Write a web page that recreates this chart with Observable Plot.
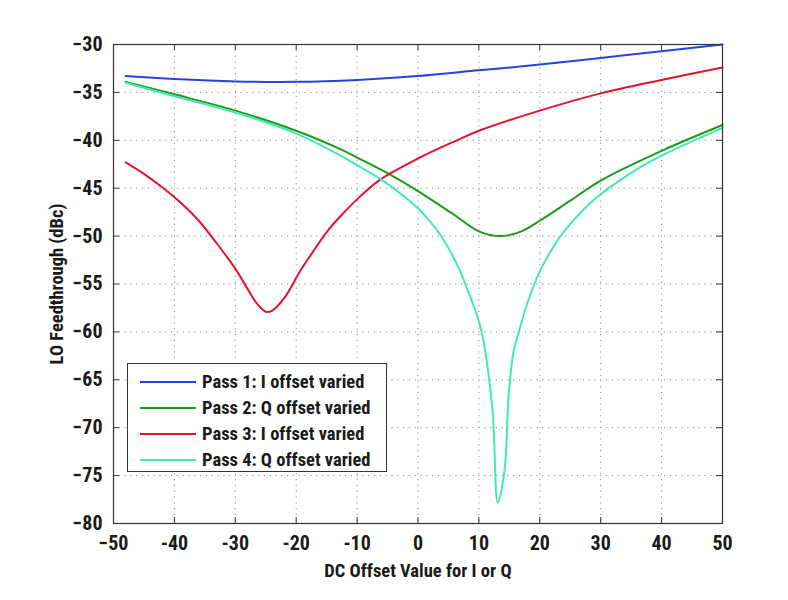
<!DOCTYPE html>
<html>
<head>
<meta charset="utf-8">
<script src="https://cdn.jsdelivr.net/npm/d3@7"></script>
<script src="https://cdn.jsdelivr.net/npm/@observablehq/plot@0.6"></script>
<style>
  html, body { margin: 0; padding: 0; background: #fff; }
  #wrap { position: relative; width: 788px; height: 600px; }
  #legend {
    position: absolute; left: 127px; top: 363px; width: 258px; height: 107px;
    border: 1px solid #333; background: #fff; box-sizing: content-box;
    font-weight: bold; font-size: 18.5px; color: #1a1a1a;
  }
  .row { position: absolute; left: 0; height: 26px; display: flex; align-items: center; white-space: nowrap; }
  .row svg { margin-left: 12px; margin-right: 6px; flex: none; }
  .row span { display: inline-block; transform-origin: left center; }
</style>
</head>
<body>
<div id="wrap"></div>
<script>
// ---- data ----
const seriesNames = ["Pass 1: I offset varied", "Pass 2: Q offset varied", "Pass 3: I offset varied", "Pass 4: Q offset varied"];
const seriesColors = ["#2444e0", "#1e9a1a", "#e0142c", "#44e8b8"];

const pass1X = [-48, -40, -30, -20, -10, 0, 10, 20, 30, 40, 50];
const pass1Y = [-33.3, -33.6, -33.85, -33.9, -33.7, -33.3, -32.7, -32.1, -31.4, -30.7, -30.0];

const pass2X = [-48, -40, -30, -20, -12.5, -10, -4.5, 0, 6, 10, 13.5, 17, 20, 25, 30, 40, 50];
const pass2Y = [-33.9, -35.2, -36.9, -39.0, -41.0, -41.8, -43.6, -45.3, -47.8, -49.5, -50.0, -49.5, -48.4, -46.3, -44.2, -41.1, -38.4];

const pass3X = [-48, -45, -42, -39, -36, -33, -30, -28, -26.5, -25, -24, -22, -19.3, -17, -14.9, -12.7, -9.4, -6.2, 0, 6.4, 10, 20, 30, 40, 50];
const pass3Y = [-42.3, -43.5, -44.9, -46.5, -48.4, -50.8, -53.4, -55.5, -57.0, -57.9, -57.8, -56.5, -53.6, -51.4, -49.5, -47.9, -45.8, -44.1, -41.9, -40.0, -39.0, -36.9, -35.1, -33.7, -32.4];

const pass4X = [-48, -40, -30, -20, -12.7, -10, -6, -3, 0, 2, 4, 6.6, 8, 10.3, 12.2, 13.1, 14.2, 14.9, 15.7, 16.6, 18, 19.7, 21.5, 23.4, 25.6, 28.9, 35, 40, 50];
const pass4Y = [-34.0, -35.4, -37.1, -39.3, -41.6, -42.6, -44.1, -45.5, -47.1, -48.5, -50.2, -53.2, -55.4, -59.6, -67.9, -77.8, -74.5, -66.5, -62.0, -59.9, -56.9, -54.1, -51.9, -50.0, -48.3, -46.2, -43.4, -41.6, -38.7];

const xTicks = [-50, -40, -30, -20, -10, 0, 10, 20, 30, 40, 50];
const xTickLabels = ["\u221250", "-40", "-30", "-20", "-10", "0", "10", "20", "30", "40", "50"];
const yTicks = [-80, -75, -70, -65, -60, -55, -50, -45, -40, -35, -30];
const yTickLabels = ["\u221280", "\u221275", "\u221270", "\u221265", "\u221260", "\u221255", "\u221250", "\u221245", "\u221240", "\u221235", "\u221230"];

const xLabel = "DC Offset Value for I or Q";
const yLabel = "LO Feedthrough (dBc)";

// ---- pick a condensed bold face if one exists, else squeeze Liberation Sans ----
const ctx = document.createElement("canvas").getContext("2d");
function w(f) { ctx.font = `bold 100px ${f}`; return ctx.measureText("Pass 1: offset 0123").width; }
const base = w("'Liberation Sans'");
const candidates = ["Liberation Sans Narrow", "Arial Narrow", "Roboto Condensed", "Open Sans Condensed", "DejaVu Sans Condensed"];
let font = "'Liberation Sans', Arial, sans-serif", squeeze = 0.82;
for (const c of candidates) {
  const cw = w(`'${c}', monospace`), mono = w("monospace");
  if (Math.abs(cw - mono) > 1 && cw < base * 0.92) { font = `'${c}', sans-serif`; squeeze = 1; break; }
}

// ---- build table ----
const allX = [pass1X, pass2X, pass3X, pass4X];
const allY = [pass1Y, pass2Y, pass3Y, pass4Y];
const rows = [];
allX.forEach((xs, s) => xs.forEach((x, i) => rows.push({series: seriesNames[s], x, y: allY[s][i]})));

const W = 788, H = 600;
const mL = 113, mR = 66, mT = 44, mB = 77;
const frameH = H - mT - mB, frameW = W - mL - mR;
const tick = 6;

const chart = Plot.plot({
  width: W, height: H,
  marginLeft: mL, marginRight: mR, marginTop: mT, marginBottom: mB,
  style: {fontFamily: font, fontWeight: "bold", fontSize: "20px", color: "#1a1a1a", background: "#fff"},
  x: {domain: [-50, 50], label: null},
  y: {domain: [-80, -30], label: null},
  color: {domain: seriesNames, range: seriesColors},
  marks: [
    Plot.ruleX(xTicks.slice(1, -1), {x: d => d, stroke: "#888", strokeDasharray: "1.2,4.6", strokeWidth: 1}),
    Plot.ruleY(yTicks.slice(1, -1), {y: d => d, stroke: "#888", strokeDasharray: "1.2,4.6", strokeWidth: 1}),
    Plot.ruleX(xTicks, {x: d => d, insetTop: frameH - tick, stroke: "#333"}),
    Plot.ruleX(xTicks, {x: d => d, insetBottom: frameH - tick, stroke: "#333"}),
    Plot.ruleY(yTicks, {y: d => d, insetRight: frameW - tick, stroke: "#333"}),
    Plot.ruleY(yTicks, {y: d => d, insetLeft: frameW - tick, stroke: "#333"}),
    Plot.line(rows, {x: "x", y: "y", z: "series", stroke: "series", strokeWidth: 2, curve: "catmull-rom"}),
    Plot.frame({stroke: "#333", strokeWidth: 1.2}),
    Plot.axisX({anchor: "bottom", ticks: xTicks, tickSize: 0, tickPadding: 12,
      tickFormat: (d) => xTickLabels[xTicks.indexOf(d)],
      label: xLabel, labelAnchor: "center", labelArrow: "none", labelOffset: 53, fontSize: "20px"}),
    Plot.axisY({anchor: "left", ticks: yTicks, tickSize: 0, tickPadding: 11,
      tickFormat: (d) => yTickLabels[yTicks.indexOf(d)],
      label: yLabel, labelAnchor: "center", labelArrow: "none", labelOffset: 64, fontSize: "20px"})
  ]
});

const wrap = document.getElementById("wrap");
wrap.appendChild(chart);

// axis titles are a little smaller than the tick labels
chart.querySelectorAll('g[aria-label="x-axis label"] text, g[aria-label="y-axis label"] text')
  .forEach(t => t.setAttribute("font-size", "18.5px"));
chart.querySelectorAll('g[aria-label="x-axis label"], g[aria-label="y-axis label"]')
  .forEach(g => g.setAttribute("font-size", "18.5px"));

if (squeeze !== 1) {
  chart.querySelectorAll("text").forEach(t => {
    const L = t.getComputedTextLength();
    if (L > 0) { t.setAttribute("textLength", (L * squeeze).toFixed(2)); t.setAttribute("lengthAdjust", "spacingAndGlyphs"); }
  });
}

// legend overlay (inside the axes, as in the reference)
const legend = document.createElement("div");
legend.id = "legend";
legend.style.fontFamily = font;
const rowTops = [5, 31, 57, 83];
seriesNames.forEach((name, i) => {
  const r = document.createElement("div");
  r.className = "row";
  r.style.top = rowTops[i] + "px";
  r.innerHTML = `<svg width="56" height="4"><line x1="0" x2="56" y1="2" y2="2" stroke="${seriesColors[i]}" stroke-width="2"/></svg><span style="transform: scaleX(${squeeze})">${name}</span>`;
  legend.appendChild(r);
});
wrap.appendChild(legend);
</script>
</body>
</html>
